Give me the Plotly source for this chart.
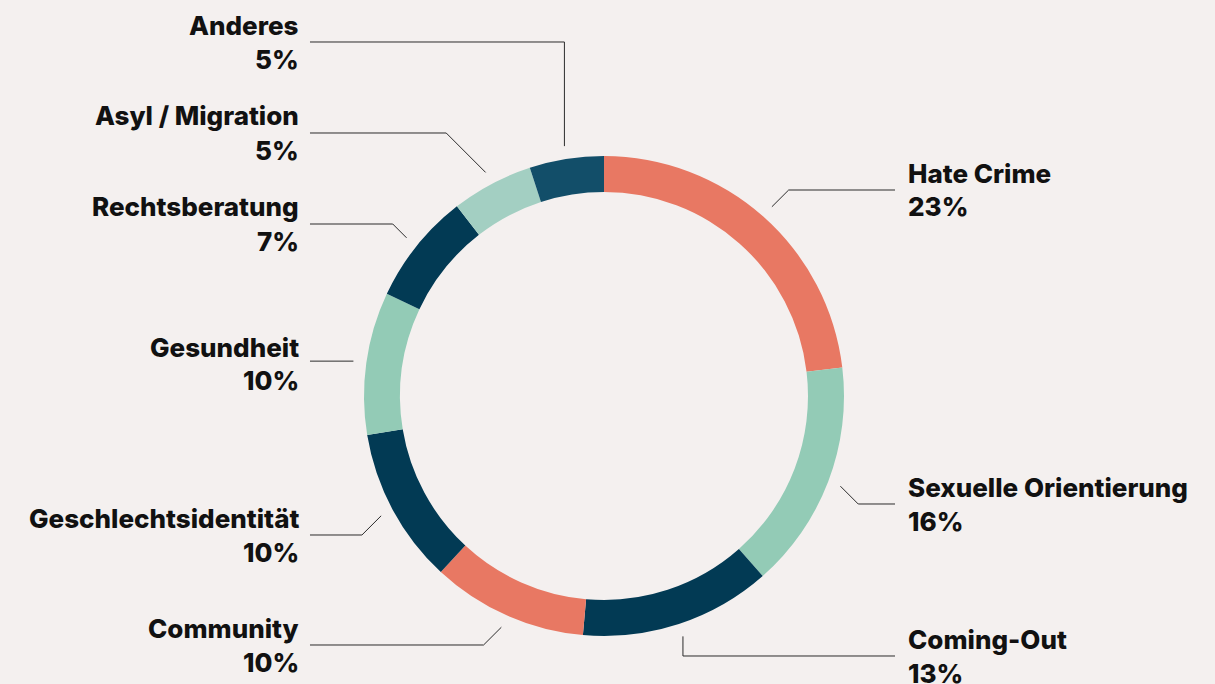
import math
import plotly.graph_objects as go

# data
themen = ["Hate Crime", "Sexuelle Orientierung", "Coming-Out", "Community",
          "Geschlechtsidentität", "Gesundheit", "Rechtsberatung",
          "Asyl / Migration", "Anderes"]
prozent_text = ["23%", "16%", "13%", "10%", "10%", "10%", "7%", "5%", "5%"]
# arc shares as measured from the ring
anteile = [23.1, 15.4, 12.9, 10.5, 10.5, 9.6, 7.5, 5.5, 5.0]
farben = ["#E87863", "#93CBB6", "#023A54", "#E87863", "#023A54",
          "#93CBB6", "#023A54", "#A3CFC2", "#124E69"]

# layout (pixels)
W, H = 1215, 684
cx, cy, R = 604, 396, 240
seite = ["r", "r", "r", "l", "l", "l", "l", "l", "l"]
label_y = [190, 504, 656, 645, 535, 364, 224, 133, 42]
knick = ["diag", "diag", "vert", "diag", "diag", "flat", "diag", "diag", "vert"]

def px(x):
    return x / W

def py(y):
    return 1 - y / H

fig = go.Figure(go.Pie(
    labels=themen, values=anteile, sort=False, direction="clockwise",
    rotation=0, hole=0.85, textinfo="none", hoverinfo="label",
    marker=dict(colors=farben, line=dict(width=0)), showlegend=False,
    domain=dict(x=[px(cx - R), px(cx + R)], y=[py(cy + R), py(cy - R)]),
))

summe = sum(anteile)
kum = 0
shapes, annos = [], []
fnt = dict(family="Inter, sans-serif", size=26, color="#111111", weight=800)
for name, wert, pct, s, ly, k in zip(themen, anteile, prozent_text, seite, label_y, knick):
    mitte = (kum + wert / 2) / summe * 2 * math.pi
    kum += wert
    ax = cx + 253 * math.sin(mitte)
    ay = cy - 253 * math.cos(mitte)
    ende = 895 if s == "r" else 310
    sign = 1 if s == "r" else -1
    if k == "flat":
        pts = [(ax, ay), (ende, ay)]
    elif k == "vert":
        pts = [(ax, ay), (ax, ly), (ende, ly)]
    else:
        ex = ax + sign * abs(ly - ay)
        pts = [(ax, ay), (ex, ly), (ende, ly)]
    path = "M " + " L ".join(f"{px(x):.5f},{py(y):.5f}" for x, y in pts)
    shapes.append(dict(type="path", path=path, xref="paper", yref="paper",
                       line=dict(color="#2b2b2b", width=1)))
    tx = 906 if s == "r" else 301
    anch = "left" if s == "r" else "right"
    for txt, dy in ((name, -17), (pct, 17)):
        annos.append(dict(text=txt, x=px(tx), y=py(ly + dy), xref="paper",
                          yref="paper", xanchor=anch, yanchor="middle",
                          showarrow=False, font=fnt))

fig.update_layout(
    width=W, height=H, margin=dict(l=0, r=0, t=0, b=0),
    paper_bgcolor="#F4F0EF", plot_bgcolor="#F4F0EF",
    shapes=shapes, annotations=annos,
)

fig.write_html("out.html", config={"displayModeBar": False},
               post_script="document.body.style.margin='0';")
